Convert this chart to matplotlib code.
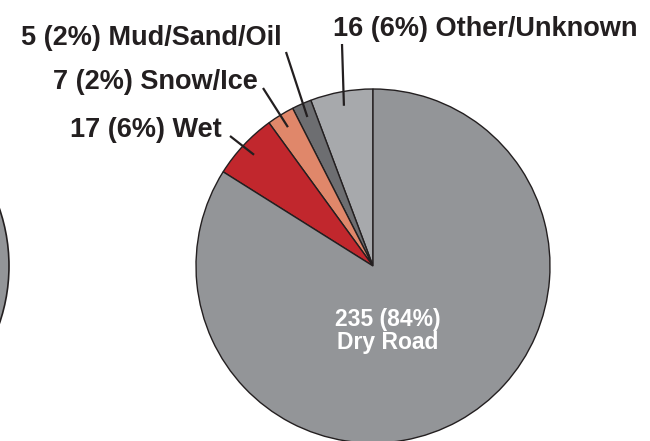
import numpy as np
import matplotlib
matplotlib.use("Agg")
import matplotlib.pyplot as plt

# road surface condition counts (counterclockwise from 12 o'clock)
categories = ["Other/Unknown", "Mud/Sand/Oil", "Snow/Ice", "Wet", "Dry Road"]
counts = [16, 5, 7, 17, 235]
colors = ["#a7a9ac", "#6d6e71", "#e0876a", "#c1272d", "#939598"]

total = sum(counts)
pcts = [round(c / total * 100) for c in counts]

W, H = 650, 441
fig = plt.figure(figsize=(6.5, 4.41), dpi=100)
ax = fig.add_axes([0, 0, 1, 1])

cx, cy, R = 373, H - 266, 177
edge = "#231f20"

# neighbouring pie, only its right edge is visible
ax.pie([1], colors=["#939598"], center=(-168, cy), radius=R,
       wedgeprops=dict(edgecolor=edge, linewidth=1.2), frame=True)

wedges, _ = ax.pie(counts, colors=colors, startangle=90, counterclock=True,
                   center=(cx, cy), radius=R,
                   wedgeprops=dict(edgecolor=edge, linewidth=1.0), frame=True)
ax.set_xlim(0, W)
ax.set_ylim(0, H)
ax.set_aspect("equal")
ax.axis("off")

font = dict(family="Liberation Sans", weight="bold", fontsize=19.5, color="#231f20")

# label anchor (x, baseline y in pixels from top), alignment, leader start
label_pos = {
    "Other/Unknown": (333, 36, "left", (342, 44)),
    "Mud/Sand/Oil": (282, 45, "right", (286, 52)),
    "Snow/Ice": (258, 89, "right", (263, 88)),
    "Wet": (222, 137, "right", (230, 136)),
}

for w, cat, n, p in zip(wedges, categories, counts, pcts):
    if cat == "Dry Road":
        ax.text(388, H - 331, f"{n} ({p}%)\n{cat}", ha="center", va="center",
                multialignment="center", linespacing=0.95,
                family="Liberation Sans", weight="bold", fontsize=16.5, color="white")
        continue
    tx, ty, ha, (lx, ly) = label_pos[cat]
    ax.text(tx, H - ty, f"{n} ({p}%) {cat}", ha=ha, va="baseline", **font)
    mid = np.deg2rad((w.theta1 + w.theta2) / 2)
    px = cx + 0.92 * R * np.cos(mid)
    py = cy + 0.92 * R * np.sin(mid)
    ax.plot([lx, px], [H - ly, py], color=edge, lw=1.6, solid_capstyle="butt")

fig.savefig("out.png", dpi=100)
